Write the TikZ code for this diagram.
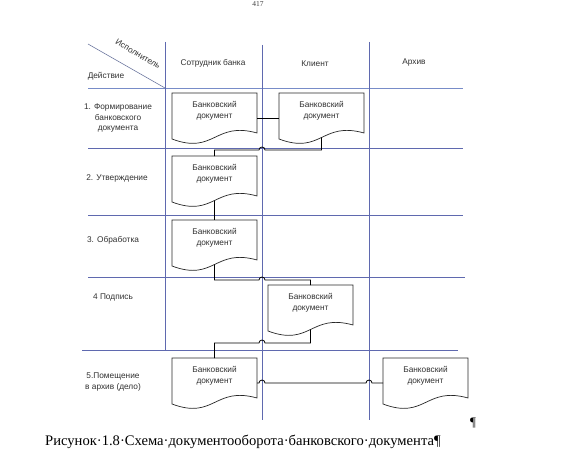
\documentclass[tikz,border=0pt]{standalone}
\usepackage{fontspec}
\setmainfont{Liberation Sans}
\newfontfamily\capfont{Liberation Serif}
\usetikzlibrary{calc}
\definecolor{gridc}{RGB}{95,105,175}
\definecolor{headc}{RGB}{120,140,200}
\definecolor{docc}{RGB}{40,40,40}
\definecolor{txtc}{RGB}{50,50,50}
\definecolor{diagc}{RGB}{110,120,160}
\begin{document}
\begin{tikzpicture}[x=1pt,y=-1pt,
  grid/.style={draw=gridc, line width=0.6pt},
  txt/.style={font=\fontsize{8.3}{10.5}\selectfont, text=txtc, inner sep=0pt, align=center},
  docbox/.style={txt},
  docline/.style={draw=docc, line width=0.7pt},
  conn/.style={draw=black, line width=0.8pt}]
\useasboundingbox (0,0) rectangle (567,460);
\fill[white] (0,0) rectangle (567,460);

% table grid
\draw[draw=headc, line width=0.9pt] (88,88) -- (463,88);
\draw[grid] (88,148) -- (463,148);
\draw[grid] (88,215) -- (463,215);
\draw[grid] (88,277) -- (465,277);
\draw[grid] (82,350) -- (458,350);
\draw[grid] (165,42) -- (165,350);
\draw[grid] (262,45) -- (262,420);
\draw[grid] (369,42) -- (369,420);
\draw[draw=diagc, line width=0.6pt] (88,44) -- (165,88);

% headers
\node[txt, rotate=-30] (hisp) at (138,54) {Исполнитель};
\node[txt] (hdej) at (106,76) {Действие};
\node[txt] (hsot) at (213,63) {Сотрудник банка};
\node[txt] (hkl) at (315,64) {Клиент};
\node[txt] (harh) at (414,63) {Архив};

% row labels
\node[txt] (r1) at (118,118) {1. Формирование\\банковского\\документа};
\node[txt] (r2) at (117,178) {2. Утверждение};
\node[txt] (r3) at (113,240) {3. Обработка};
\node[txt] (r4) at (113,297) {4 Подпись};
\node[txt] (r5) at (113,382) {5.Помещение\\в архив (дело)};

% documents
\node[docbox] (d1) at (214.5,111) {Банковский\\документ};
\node[docbox] (d2) at (321.5,111) {Банковский\\документ};
\node[docbox] (d3) at (214.5,174) {Банковский\\документ};
\node[docbox] (d4) at (214.5,238) {Банковский\\документ};
\node[docbox] (d5) at (310.5,303) {Банковский\\документ};
\node[docbox] (d6) at (214.5,376) {Банковский\\документ};
\node[docbox] (d7) at (425.5,376) {Банковский\\документ};

\foreach \d in {d1,d2,d3,d4,d5,d6,d7}{
  \coordinate (\d-nw) at ($(\d.center)+(-42.5,-18)$);
  \coordinate (\d-ne) at ($(\d.center)+(42.5,-18)$);
  \coordinate (\d-r) at ($(\d.center)+(42.5,22)$);
  \coordinate (\d-l) at ($(\d.center)+(-42.5,28)$);
  \coordinate (\d-c1) at ($(\d.center)+(0,10)$);
  \coordinate (\d-c2) at ($(\d.center)+(0,44)$);
  \coordinate (\d-n) at ($(\d.center)+(0,-18)$);
  \coordinate (\d-s) at ($(\d.center)+(0,26.5)$);
  \coordinate (\d-e) at ($(\d.center)+(42.5,7)$);
  \coordinate (\d-w) at ($(\d.center)+(-42.5,7)$);
  \draw[docline] (\d-nw) -- (\d-ne) -- (\d-r) .. controls (\d-c1) and (\d-c2) .. (\d-l) -- cycle;
}

% connectors
\coordinate (j1) at (262,150);
\coordinate (j2) at (262,280);
\coordinate (j3) at (262,343);
\coordinate (j4) at (262,0 |- d6-e);
\coordinate (j5) at (369,0 |- d6-e);
\draw[conn] (d1-e) -- (d2-w);
\draw[conn] (d2-s) -- (d2-s |- j1) -- ([xshift=3pt]j1) arc[start angle=0,end angle=180,radius=3pt] -- (d3-n |- j1) -- (d3-n);
\draw[conn] (d3-s) -- (d4-n);
\draw[conn] (d4-s) -- (d4-s |- j2) -- ([xshift=-3pt]j2) arc[start angle=180,end angle=0,radius=3pt] -- (d5-n |- j2) -- (d5-n);
\draw[conn] (d5-s) -- (d5-s |- j3) -- ([xshift=3pt]j3) arc[start angle=0,end angle=180,radius=3pt] -- (d6-n |- j3) -- (d6-n);
\draw[conn] (d6-e) -- ([xshift=-3pt]j4) arc[start angle=180,end angle=0,radius=3pt] -- ([xshift=-3pt]j5) arc[start angle=180,end angle=0,radius=3pt] -- (d7-w);

% page number, pilcrow, caption
\node[font=\capfont\fontsize{7.5}{8}\selectfont, text=darkgray, inner sep=0pt] (pg) at (258,4) {417};
\node[font=\capfont\fontsize{13}{14}\selectfont, inner sep=0pt] (pil) at (473,423) {¶};
\node[font=\capfont\fontsize{14.6}{16}\selectfont, anchor=base west, inner sep=0pt] (cap) at (45,445) {Рисунок·1.8·Схема·документооборота·банковского·документа¶};
\end{tikzpicture}
\end{document}
